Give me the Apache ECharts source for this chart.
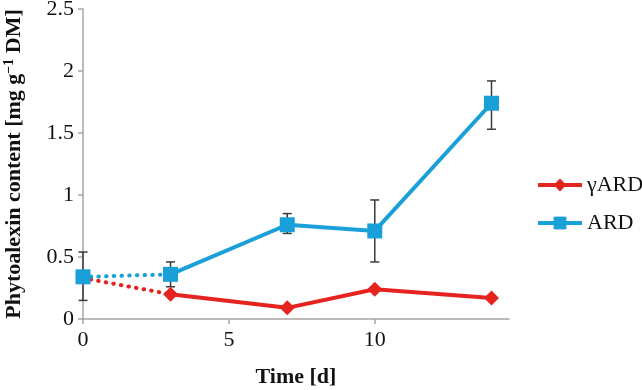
<!DOCTYPE html>
<html lang="en">
<head>
    <meta charset="UTF-8">
    <title>Phytoalexin content</title>
    <style type="text/css">
        * { margin: 0; padding: 0; }
        html, body { width: 100%; height: 100%; background: #fff; }
        #chart-panel { width: 642px; height: 390px; }
    </style>
</head>
<body>
<div id="chart-panel"></div>
<script src="https://cdn.jsdelivr.net/npm/echarts@6/dist/echarts.min.js"></script>
<script>
    var myChart = echarts.init(document.getElementById('chart-panel'));

    // time in days
    const days = [0, 3, 7, 10, 14];
    const gammaArd = [0.33, 0.2, 0.09, 0.24, 0.17];
    const ard = [0.34, 0.36, 0.76, 0.71, 1.74];
    // ARD error bar ends
    const ardErrLow = [0.15, 0.26, 0.69, 0.46, 1.53];
    const ardErrHigh = [0.54, 0.46, 0.85, 0.96, 1.92];
    const xTicks = [0, 5, 10];

    const red = '#E5231F';
    const blue = '#1AA0D8';
    const serif = 'Liberation Serif';

    const pts = (ys) => days.map((d, i) => [d, ys[i]]);
    const redPts = pts(gammaArd);
    const bluePts = pts(ard);

    var option = {
        animation: false,
        textStyle: { fontFamily: serif },
        grid: { left: 83, right: 133, top: 9, bottom: 71, outerBoundsMode: 'none', containLabel: false },
        legend: {
            orient: 'vertical',
            left: 531,
            top: 169,
            itemWidth: 44,
            itemHeight: 16,
            itemGap: 16,
            data: ['γARD', 'ARD'],
            lineStyle: { width: 4 },
            textStyle: { fontFamily: serif, fontSize: 22, color: '#111', lineHeight: 22 }
        },
        xAxis: {
            type: 'value',
            min: 0,
            max: 14.6,
            interval: 5,
            name: 'Time [d]',
            nameLocation: 'middle',
            nameGap: 47,
            nameTextStyle: { fontFamily: serif, fontSize: 22, fontWeight: 'bold', color: '#111' },
            axisLine: { lineStyle: { color: '#A8A4A0', width: 1.5 } },
            axisTick: { customValues: xTicks, length: 5, lineStyle: { color: '#A8A4A0', width: 1.5 } },
            axisLabel: { customValues: xTicks, margin: 10, fontFamily: serif, fontSize: 22, color: '#111' },
            splitLine: { show: false }
        },
        yAxis: {
            type: 'value',
            min: 0,
            max: 2.5,
            interval: 0.5,
            name: '{a|Phytoalexin content [mg g}{s|−1}{a| DM]}',
            nameLocation: 'middle',
            nameGap: 57,
            nameTextStyle: {
                rich: {
                    a: { fontFamily: serif, fontSize: 22, fontWeight: 'bold', color: '#111', lineHeight: 24 },
                    s: { fontFamily: serif, fontSize: 14, fontWeight: 'bold', color: '#111', lineHeight: 24, verticalAlign: 'top' }
                }
            },
            axisLine: { show: true, lineStyle: { color: '#A8A4A0', width: 1.5 } },
            axisTick: { show: true, length: 5, lineStyle: { color: '#A8A4A0', width: 1.5 } },
            axisLabel: { margin: 9, fontFamily: serif, fontSize: 22, color: '#111' },
            splitLine: { show: false }
        },
        series: [{
            name: 'ARD error',
            type: 'custom',
            z: 1,
            renderItem: function (params, api) {
                const x = api.value(0);
                const lo = api.coord([x, api.value(1)]);
                const hi = api.coord([x, api.value(2)]);
                const w = 4.5;
                const style = { stroke: '#3a3a3a', lineWidth: 1.5 };
                return {
                    type: 'group',
                    children: [
                        { type: 'line', shape: { x1: lo[0], y1: lo[1], x2: hi[0], y2: hi[1] }, style: style },
                        { type: 'line', shape: { x1: lo[0] - w, y1: lo[1], x2: lo[0] + w, y2: lo[1] }, style: style },
                        { type: 'line', shape: { x1: hi[0] - w, y1: hi[1], x2: hi[0] + w, y2: hi[1] }, style: style }
                    ]
                };
            },
            data: days.map((d, i) => [d, ardErrLow[i], ardErrHigh[i]])
        }, {
            name: 'γARD',
            type: 'line',
            z: 3,
            data: redPts.slice(1),
            symbol: 'diamond',
            symbolSize: 15,
            itemStyle: { color: red },
            lineStyle: { color: red, width: 4 }
        }, {
            name: 'γARD start',
            type: 'line',
            z: 2,
            data: redPts.slice(0, 2),
            symbol: 'diamond',
            symbolSize: (v, p) => p.dataIndex === 0 ? 15 : 0,
            itemStyle: { color: red },
            lineStyle: { color: red, width: 4, type: [0.5, 7.2], cap: 'round' }
        }, {
            name: 'ARD',
            type: 'line',
            z: 5,
            data: bluePts.slice(1),
            symbol: 'rect',
            symbolSize: 15,
            itemStyle: { color: blue },
            lineStyle: { color: blue, width: 4 }
        }, {
            name: 'ARD start',
            type: 'line',
            z: 4,
            data: bluePts.slice(0, 2),
            symbol: 'rect',
            symbolSize: (v, p) => p.dataIndex === 0 ? 15 : 0,
            itemStyle: { color: blue },
            lineStyle: { color: blue, width: 4, type: [0.5, 7.2], cap: 'round' }
        }]
    };
    myChart.setOption(option);
</script>
</body>
</html>
